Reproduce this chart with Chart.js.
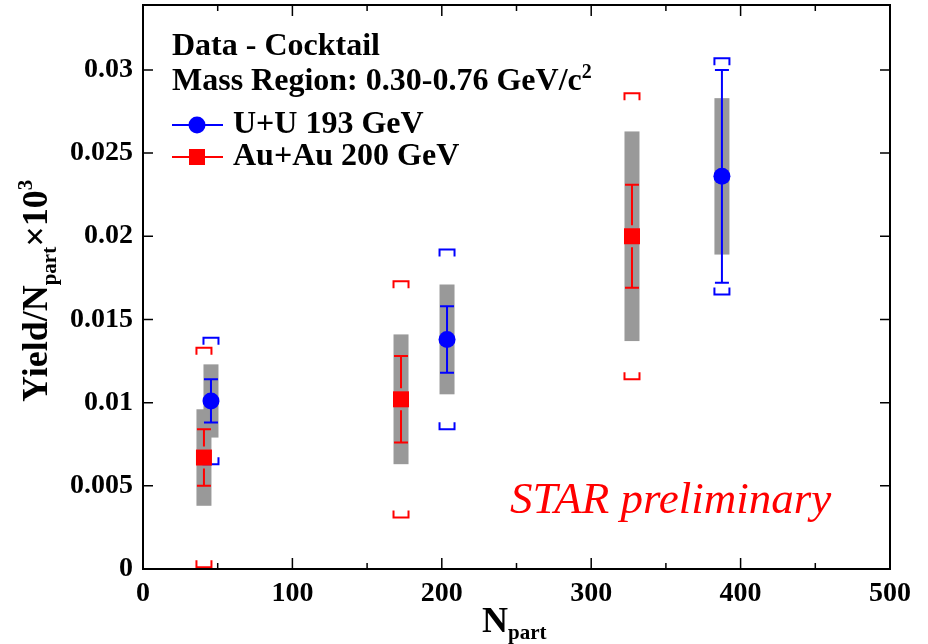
<!DOCTYPE html>
<html>
<head>
<meta charset="utf-8">
<script src="https://cdn.jsdelivr.net/npm/chart.js@4.4.0/dist/chart.umd.min.js"></script>
<style>
  html, body { margin: 0; padding: 0; background: #fff; }
  #wrap { width: 928px; height: 644px; }
</style>
</head>
<body>
<div id="wrap"><canvas id="chart" width="928" height="644"></canvas></div>
<script>
// U+U 193 GeV
const uuNpart   = [45.5, 203.5, 387.5];
const uuYield   = [0.0101, 0.0138, 0.0236];
const uuStat    = [0.0013, 0.0020, 0.0064];
const uuSys     = [0.0022, 0.0033, 0.0047];
const uuBracket = [0.0038, 0.0054, 0.0071];

// Au+Au 200 GeV
const auNpart   = [40.8, 172.7, 327.3];
const auYield   = [0.0067, 0.0102, 0.0200];
const auStat    = [0.0017, 0.0026, 0.0031];
const auSys     = [0.0029, 0.0039, 0.0063];
const auBracket = [0.0066, 0.0071, 0.0086];

const xTicks = [0, 100, 200, 300, 400, 500];
const xMinorTicks = [50, 150, 250, 350, 450];
const yTicks = [0, 0.005, 0.01, 0.015, 0.02, 0.025, 0.03];

const SERIF = '"Liberation Serif", "Times New Roman", serif';
const BLUE = '#0000ff';
const RED = '#ff0000';

const series = [
    { x: uuNpart, y: uuYield, stat: uuStat, sys: uuSys, br: uuBracket, color: BLUE, gap: 0 },
    { x: auNpart, y: auYield, stat: auStat, sys: auSys, br: auBracket, color: RED, gap: 11 },
];

// draws a run of text pieces (for sub/superscripts)
function drawRich(ctx, parts, x, y) {
    let cx = x;
    parts.forEach(p => {
        ctx.font = p.font;
        ctx.fillText(p.t, cx, y + (p.dy || 0));
        cx += ctx.measureText(p.t).width + (p.space || 0);
    });
}

const rootStyle = {
    id: 'rootStyle',
    beforeDatasetsDraw(chart) {
        const ctx = chart.ctx;
        const xs = chart.scales.x, ys = chart.scales.y;
        ctx.save();

        // grey systematic boxes first
        series.forEach(s => {
            s.x.forEach((xv, i) => {
                const px = xs.getPixelForValue(xv);
                const top = ys.getPixelForValue(s.y[i] + s.sys[i]);
                const bot = ys.getPixelForValue(s.y[i] - s.sys[i]);
                ctx.fillStyle = '#999999';
                ctx.fillRect(px - 7.5, top, 15, bot - top);
            });
        });

        // brackets + statistical error bars
        series.forEach(s => {
            ctx.strokeStyle = s.color;
            ctx.lineWidth = 2;
            s.x.forEach((xv, i) => {
                const px = xs.getPixelForValue(xv);
                const py = ys.getPixelForValue(s.y[i]);
                const hi = ys.getPixelForValue(s.y[i] + s.stat[i]);
                const lo = ys.getPixelForValue(s.y[i] - s.stat[i]);
                ctx.beginPath();
                ctx.moveTo(px, hi); ctx.lineTo(px, py - s.gap);
                ctx.moveTo(px, py + s.gap); ctx.lineTo(px, lo);
                ctx.moveTo(px - 7, hi); ctx.lineTo(px + 7, hi);
                ctx.moveTo(px - 7, lo); ctx.lineTo(px + 7, lo);
                ctx.stroke();

                const bHi = ys.getPixelForValue(s.y[i] + s.br[i]);
                const bLo = ys.getPixelForValue(s.y[i] - s.br[i]);
                ctx.beginPath();
                ctx.moveTo(px - 7.5, bHi + 7); ctx.lineTo(px - 7.5, bHi);
                ctx.lineTo(px + 7.5, bHi); ctx.lineTo(px + 7.5, bHi + 7);
                ctx.moveTo(px - 7.5, bLo - 7); ctx.lineTo(px - 7.5, bLo);
                ctx.lineTo(px + 7.5, bLo); ctx.lineTo(px + 7.5, bLo - 7);
                ctx.stroke();
            });
        });
        ctx.restore();
    },
    afterDraw(chart) {
        const ctx = chart.ctx;
        const a = chart.chartArea;
        const xs = chart.scales.x, ys = chart.scales.y;
        ctx.save();

        // frame and inward ticks on all four sides
        ctx.strokeStyle = '#000';
        ctx.lineWidth = 2;
        ctx.strokeRect(a.left, a.top, a.right - a.left, a.bottom - a.top);
        ctx.beginPath();
        xTicks.forEach(v => {
            const p = xs.getPixelForValue(v);
            ctx.moveTo(p, a.bottom); ctx.lineTo(p, a.bottom - 11);
            ctx.moveTo(p, a.top); ctx.lineTo(p, a.top + 11);
        });
        xMinorTicks.forEach(v => {
            const p = xs.getPixelForValue(v);
            ctx.moveTo(p, a.bottom); ctx.lineTo(p, a.bottom - 6);
            ctx.moveTo(p, a.top); ctx.lineTo(p, a.top + 6);
        });
        yTicks.forEach(v => {
            const p = ys.getPixelForValue(v);
            ctx.moveTo(a.left, p); ctx.lineTo(a.left + 10, p);
            ctx.moveTo(a.right, p); ctx.lineTo(a.right - 10, p);
        });
        ctx.lineWidth = 1.5;
        ctx.stroke();

        // legend block
        ctx.fillStyle = '#000';
        ctx.textBaseline = 'alphabetic';
        ctx.textAlign = 'left';
        const bold32 = 'bold 32px ' + SERIF;
        drawRich(ctx, [{ t: 'Data - Cocktail', font: bold32 }], 172, 55);
        drawRich(ctx, [
            { t: 'Mass Region: 0.30-0.76 GeV/c', font: bold32 },
            { t: '2', font: 'bold 20px ' + SERIF, dy: -12 },
        ], 172, 90);

        const legendRows = [
            { label: 'U+U 193 GeV', color: BLUE, y: 125, style: 'circle' },
            { label: 'Au+Au 200 GeV', color: RED, y: 157, style: 'rect' },
        ];
        legendRows.forEach(r => {
            ctx.strokeStyle = r.color;
            ctx.fillStyle = r.color;
            ctx.lineWidth = 2;
            ctx.beginPath();
            ctx.moveTo(172, r.y); ctx.lineTo(223, r.y);
            ctx.stroke();
            if (r.style === 'circle') {
                ctx.beginPath();
                ctx.arc(197, r.y, 8.5, 0, Math.PI * 2);
                ctx.fill();
            } else {
                ctx.fillRect(189, r.y - 8, 16, 16);
            }
            ctx.fillStyle = '#000';
            drawRich(ctx, [{ t: r.label, font: bold32 }], 233, r.y + 8);
        });

        // preliminary tag
        ctx.fillStyle = RED;
        ctx.font = 'italic 45px ' + SERIF;
        ctx.fillText('STAR preliminary', 510, 513);

        // axis titles
        ctx.fillStyle = '#000';
        drawRich(ctx, [
            { t: 'N', font: 'bold 36px ' + SERIF },
            { t: 'part', font: 'bold 21px ' + SERIF, dy: 7 },
        ], 482, 632);

        ctx.translate(47, 402);
        ctx.rotate(-Math.PI / 2);
        drawRich(ctx, [
            { t: 'Yield/N', font: 'bold 36px ' + SERIF },
            { t: 'part', font: 'bold 21px ' + SERIF, dy: 9 },
            { t: '\u00d710', font: 'bold 36px ' + SERIF },
            { t: '3', font: 'bold 21px ' + SERIF, dy: -15 },
        ], 0, 0);
        ctx.restore();
    }
};

const tickFont = { family: SERIF, size: 28, weight: 'bold' };

new Chart(document.getElementById('chart'), {
    type: 'scatter',
    data: {
        datasets: [
            {
                label: 'U+U 193 GeV',
                data: uuNpart.map((x, i) => ({ x, y: uuYield[i] })),
                backgroundColor: BLUE,
                borderColor: BLUE,
                pointStyle: 'circle',
                pointRadius: 8.5,
                pointHoverRadius: 8.5,
                borderWidth: 0,
            },
            {
                label: 'Au+Au 200 GeV',
                data: auNpart.map((x, i) => ({ x, y: auYield[i] })),
                backgroundColor: RED,
                borderColor: RED,
                pointStyle: 'rect',
                pointRadius: 11.3,
                pointHoverRadius: 11.3,
                borderWidth: 0,
            },
        ],
    },
    options: {
        responsive: false,
        animation: false,
        layout: { autoPadding: false, padding: { left: 0, top: 5, right: 38, bottom: 0 } },
        plugins: { legend: { display: false }, tooltip: { enabled: false } },
        scales: {
            x: {
                type: 'linear',
                min: 0,
                max: 500,
                grid: { display: false, drawTicks: false },
                border: { display: false },
                afterBuildTicks: s => { s.ticks = xTicks.map(v => ({ value: v })); },
                afterFit: s => { s.height = 75; s.paddingLeft = 0; s.paddingRight = 0; },
                ticks: { font: tickFont, color: '#000', padding: 8, maxRotation: 0 },
            },
            y: {
                type: 'linear',
                min: 0,
                max: 0.0339,
                grid: { display: false, drawTicks: false },
                border: { display: false },
                afterBuildTicks: s => { s.ticks = yTicks.map(v => ({ value: v })); },
                afterFit: s => { s.width = 143; s.paddingTop = 0; s.paddingBottom = 0; },
                ticks: {
                    font: tickFont,
                    color: '#000',
                    padding: 10,
                    callback: v => String(Number(v.toFixed(3))),
                },
            },
        },
    },
    plugins: [rootStyle],
});
</script>
</body>
</html>
